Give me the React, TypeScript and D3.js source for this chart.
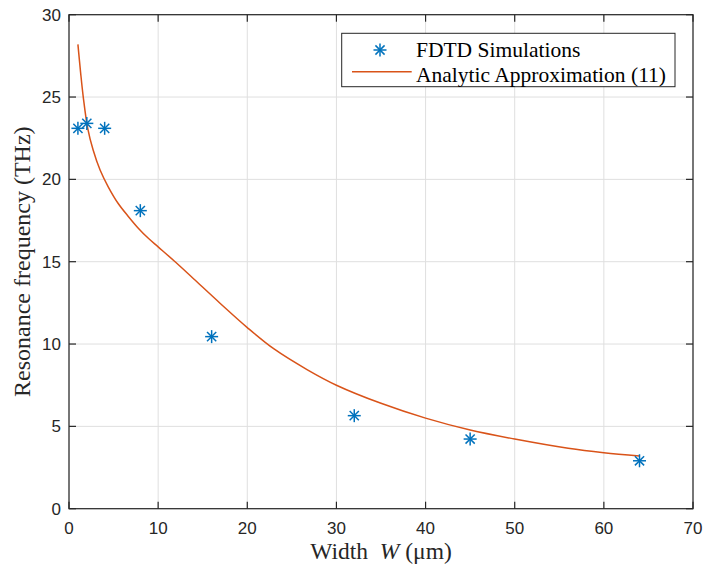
import React from "react";
import * as d3 from "d3";

const simWidth = [1, 2, 4, 8, 16, 32, 45, 64];
const simFreq = [23.1, 23.4, 23.1, 18.1, 10.45, 5.65, 4.23, 2.91];

const approxWidth = [1, 1.3, 1.6, 2.1, 2.7, 3.5, 4.4, 5.5, 6.7, 7.8, 8.9, 10, 12, 14, 17, 20, 23, 26.7, 30, 35, 40, 45, 50, 56, 60, 64];
const approxFreq = [28.2, 26.5, 25.0, 23.1, 21.8, 20.55, 19.55, 18.55, 17.72, 17.02, 16.42, 15.9, 14.95, 13.95, 12.45, 11.0, 9.7, 8.45, 7.5, 6.4, 5.5, 4.78, 4.23, 3.67, 3.4, 3.2];

const xTicks = [0, 10, 20, 30, 40, 50, 60, 70];
const yTicks = [0, 5, 10, 15, 20, 25, 30];

const seriesNames = ["FDTD Simulations", "Analytic Approximation (11)"];

const W = 705;
const H = 568;
const left = 69;
const right = 693;
const top = 14.7;
const bottom = 508.7;

const BLUE = "#0072BD";
const ORANGE = "#D95319";
const AX = "#262626";

function Star({ x, y, s = 6.5 }: { x: number; y: number; s?: number }) {
  const d = s * 0.7071;
  return (
    <g stroke={BLUE} strokeWidth={1.5}>
      <line x1={x - s} y1={y} x2={x + s} y2={y} />
      <line x1={x} y1={y - s} x2={x} y2={y + s} />
      <line x1={x - d} y1={y - d} x2={x + d} y2={y + d} />
      <line x1={x - d} y1={y + d} x2={x + d} y2={y - d} />
    </g>
  );
}

export default function App() {
  const x = d3.scaleLinear().domain([0, 70]).range([left, right]);
  const y = d3.scaleLinear().domain([0, 30]).range([bottom, top]);
  const line = d3
    .line<number>()
    .x((_, i) => x(approxWidth[i]))
    .y((v) => y(v))
    .curve(d3.curveCatmullRom.alpha(0.5));
  const path = line(approxFreq) || "";
  const tickLen = 7;
  const sans = "'Liberation Sans', Arial, sans-serif";
  const serif = "'Liberation Serif', 'Times New Roman', serif";

  return (
    <svg width={W} height={H} style={{ position: "absolute", left: 0, top: 0, background: "#fff" }}>
      <rect x={0} y={0} width={W} height={H} fill="#fff" />
      {/* grid */}
      <g stroke="#dfdfdf" strokeWidth={1}>
        {xTicks.map((t) => (
          <line key={"gx" + t} x1={x(t)} x2={x(t)} y1={top} y2={bottom} />
        ))}
        {yTicks.map((t) => (
          <line key={"gy" + t} x1={left} x2={right} y1={y(t)} y2={y(t)} />
        ))}
      </g>
      {/* curve */}
      <path d={path} fill="none" stroke={ORANGE} strokeWidth={1.5} />
      {/* points */}
      {simWidth.map((w, i) => (
        <Star key={"p" + i} x={x(w)} y={y(simFreq[i])} />
      ))}
      {/* box & ticks */}
      <rect x={left} y={top} width={right - left} height={bottom - top} fill="none" stroke={AX} strokeWidth={1.2} />
      <g stroke={AX} strokeWidth={1.2}>
        {xTicks.map((t) => (
          <g key={"tx" + t}>
            <line x1={x(t)} x2={x(t)} y1={bottom} y2={bottom - tickLen} />
            <line x1={x(t)} x2={x(t)} y1={top} y2={top + tickLen} />
          </g>
        ))}
        {yTicks.map((t) => (
          <g key={"ty" + t}>
            <line x1={left} x2={left + tickLen} y1={y(t)} y2={y(t)} />
            <line x1={right} x2={right - tickLen} y1={y(t)} y2={y(t)} />
          </g>
        ))}
      </g>
      {/* tick labels */}
      <g fill={AX} fontFamily={sans} fontSize={17}>
        {xTicks.map((t) => (
          <text key={"lx" + t} x={x(t)} y={534} textAnchor="middle">
            {t}
          </text>
        ))}
        {yTicks.map((t) => (
          <text key={"ly" + t} x={61} y={y(t) + 6} textAnchor="end">
            {t}
          </text>
        ))}
      </g>
      {/* axis labels */}
      <text x={(left + right) / 2} y={559} textAnchor="middle" fontFamily={serif} fontSize={23.5} fill={AX}>
        Width{"\u00a0\u00a0"}
        <tspan fontStyle="italic">W</tspan> (μm)
      </text>
      <text
        transform={`translate(30, ${(top + bottom) / 2}) rotate(-90)`}
        textAnchor="middle"
        fontFamily={serif}
        fontSize={24}
        fill={AX}
      >
        Resonance frequency (THz)
      </text>
      {/* legend */}
      <rect x={341.7} y={33.3} width={333.3} height={53.4} fill="#fff" stroke={AX} strokeWidth={1} />
      <Star x={380} y={50} />
      <line x1={352} x2={411.7} y1={71.7} y2={71.7} stroke={ORANGE} strokeWidth={1.5} />
      <text x={416} y={57} fontFamily={serif} fontSize={21.5} fill="#000">
        {seriesNames[0]}
      </text>
      <text x={416} y={82} fontFamily={serif} fontSize={21.5} fill="#000">
        {seriesNames[1]}
      </text>
    </svg>
  );
}
